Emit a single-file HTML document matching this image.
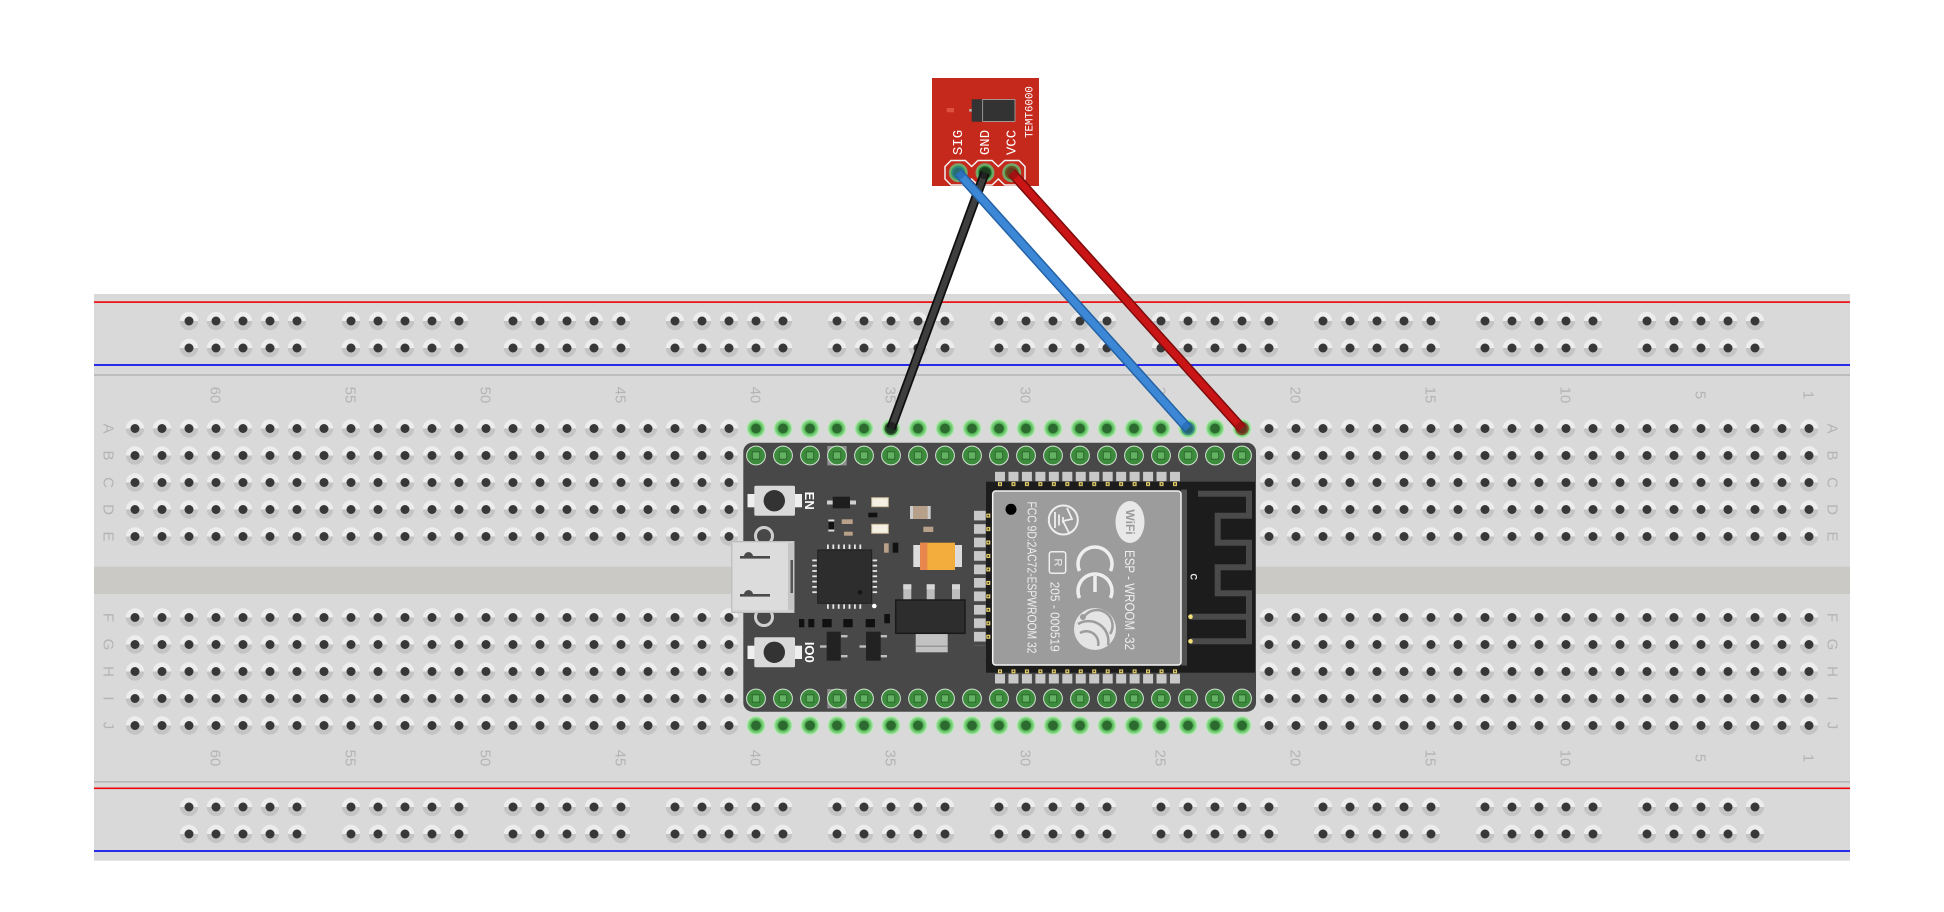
<!DOCTYPE html>
<html><head><meta charset="utf-8"><style>
html,body{margin:0;padding:0;background:#fff;}
svg{display:block;}
</style></head><body>
<svg width="1944" height="912" viewBox="0 0 1944 912" xmlns="http://www.w3.org/2000/svg" font-family="'Liberation Sans', sans-serif">
<defs>
  <pattern id="hp" patternUnits="userSpaceOnUse" x="121.5" y="415" width="27" height="27">
    <path d="M4.3,13.5 A9.2,9.2 0 0 1 22.7,13.5Z" fill="#ededed"/>
    <path d="M4.3,13.5 A9.2,9.2 0 0 0 22.7,13.5Z" fill="#c4c4c4"/>
    <circle cx="13.5" cy="13.5" r="4.5" fill="#383838"/>
  </pattern>
  <pattern id="rp" patternUnits="userSpaceOnUse" x="121.5" y="307.5" width="27" height="27">
    <path d="M4.3,13.5 A9.2,9.2 0 0 1 22.7,13.5Z" fill="#ededed"/>
    <path d="M4.3,13.5 A9.2,9.2 0 0 0 22.7,13.5Z" fill="#c4c4c4"/>
    <circle cx="13.5" cy="13.5" r="4.5" fill="#383838"/>
  </pattern>
  <radialGradient id="gg" cx="50%" cy="50%" r="50%">
    <stop offset="0" stop-color="#2c6a30"/>
    <stop offset="0.47" stop-color="#2c6a30"/>
    <stop offset="0.53" stop-color="#4cb24e"/>
    <stop offset="0.78" stop-color="#84d484"/>
    <stop offset="1" stop-color="#c6efc6"/>
  </radialGradient>
  <pattern id="gp" patternUnits="userSpaceOnUse" x="121.5" y="415" width="27" height="27">
    <circle cx="13.5" cy="13.5" r="9.6" fill="url(#gg)"/>
  </pattern>
  <pattern id="pp" patternUnits="userSpaceOnUse" x="121.5" y="415" width="27" height="27">
    <circle cx="13.5" cy="13.5" r="9.4" fill="#3d8c3d" stroke="#d2e4d2" stroke-width="1"/>
    <rect x="9.8" y="9.8" width="7.4" height="7.4" fill="#63b163" stroke="#2a682a" stroke-width="1"/>
  </pattern>
  <pattern id="tpad" patternUnits="userSpaceOnUse" x="995" y="471.7" width="13.4615" height="30">
    <rect x="0" y="0" width="10" height="9.5" fill="#c8c8c8"/>
    <rect x="3" y="10.3" width="4" height="4" fill="#ecd66c"/>
    <rect x="4.2" y="11.5" width="1.6" height="1.6" fill="#222"/>
  </pattern>
  <pattern id="bpad" patternUnits="userSpaceOnUse" x="995" y="669.3" width="13.4615" height="30">
    <rect x="3" y="0" width="4" height="4" fill="#ecd66c"/>
    <rect x="4.2" y="1.2" width="1.6" height="1.6" fill="#222"/>
    <rect x="0" y="4.7" width="10" height="9.5" fill="#c8c8c8"/>
  </pattern>
  <pattern id="lpad" patternUnits="userSpaceOnUse" x="974" y="510.7" width="30" height="13.46">
    <rect x="0" y="0" width="11.7" height="9.7" fill="#c8c8c8"/>
    <rect x="12.3" y="2.9" width="4" height="4" fill="#ecd66c"/>
    <rect x="13.5" y="4.1" width="1.6" height="1.6" fill="#222"/>
  </pattern>
</defs>

<rect width="1944" height="912" fill="#fff"/>

<!-- Breadboard -->
<rect x="94" y="294" width="1756" height="566.7" fill="#d9d9d9"/>
<rect x="94" y="566.7" width="1756" height="27.3" fill="#cbc9c6"/>
<rect x="94" y="301.3" width="1756" height="1.6" fill="#f00000"/>
<rect x="94" y="364.2" width="1756" height="1.6" fill="#0000f0"/>
<rect x="94" y="374.2" width="1756" height="1.6" fill="#b6b6b6"/>
<rect x="94" y="781" width="1756" height="1.6" fill="#b6b6b6"/>
<rect x="94" y="787.5" width="1756" height="1.6" fill="#f00000"/>
<rect x="94" y="850.2" width="1756" height="1.6" fill="#0000f0"/>

<!-- main holes -->
<rect x="121.5" y="415" width="1701" height="135" fill="url(#hp)"/>
<rect x="121.5" y="604" width="1701" height="135" fill="url(#hp)"/>

<!-- rail holes -->
<g fill="url(#rp)">
<rect x="175.5" y="307.5" width="135" height="54"/><rect x="337.5" y="307.5" width="135" height="54"/>
<rect x="499.5" y="307.5" width="135" height="54"/><rect x="661.5" y="307.5" width="135" height="54"/>
<rect x="823.5" y="307.5" width="135" height="54"/><rect x="985.5" y="307.5" width="135" height="54"/>
<rect x="1147.5" y="307.5" width="135" height="54"/><rect x="1309.5" y="307.5" width="135" height="54"/>
<rect x="1471.5" y="307.5" width="135" height="54"/><rect x="1633.5" y="307.5" width="135" height="54"/>
<rect x="175.5" y="793.5" width="135" height="54"/><rect x="337.5" y="793.5" width="135" height="54"/>
<rect x="499.5" y="793.5" width="135" height="54"/><rect x="661.5" y="793.5" width="135" height="54"/>
<rect x="823.5" y="793.5" width="135" height="54"/><rect x="985.5" y="793.5" width="135" height="54"/>
<rect x="1147.5" y="793.5" width="135" height="54"/><rect x="1309.5" y="793.5" width="135" height="54"/>
<rect x="1471.5" y="793.5" width="135" height="54"/><rect x="1633.5" y="793.5" width="135" height="54"/>
</g>

<!-- green holes row A and J -->
<rect x="742.5" y="415" width="513" height="27" fill="#d9d9d9"/>
<rect x="742.5" y="712" width="513" height="27" fill="#d9d9d9"/>
<rect x="742.5" y="415" width="513" height="27" fill="url(#gp)"/>
<rect x="742.5" y="712" width="513" height="27" fill="url(#gp)"/>

<!-- labels numbers -->
<g fill="#b4b4b4" font-size="15" text-anchor="middle" dominant-baseline="central">
<text transform="translate(215,395) rotate(90)">60</text>
<text transform="translate(350,395) rotate(90)">55</text>
<text transform="translate(485,395) rotate(90)">50</text>
<text transform="translate(620,395) rotate(90)">45</text>
<text transform="translate(755,395) rotate(90)">40</text>
<text transform="translate(890,395) rotate(90)">35</text>
<text transform="translate(1025,395) rotate(90)">30</text>
<text transform="translate(1160,395) rotate(90)">25</text>
<text transform="translate(1295,395) rotate(90)">20</text>
<text transform="translate(1430,395) rotate(90)">15</text>
<text transform="translate(1565,395) rotate(90)">10</text>
<text transform="translate(1700,395) rotate(90)">5</text>
<text transform="translate(1808,395) rotate(90)">1</text>
<text transform="translate(215,758) rotate(90)">60</text>
<text transform="translate(350,758) rotate(90)">55</text>
<text transform="translate(485,758) rotate(90)">50</text>
<text transform="translate(620,758) rotate(90)">45</text>
<text transform="translate(755,758) rotate(90)">40</text>
<text transform="translate(890,758) rotate(90)">35</text>
<text transform="translate(1025,758) rotate(90)">30</text>
<text transform="translate(1160,758) rotate(90)">25</text>
<text transform="translate(1295,758) rotate(90)">20</text>
<text transform="translate(1430,758) rotate(90)">15</text>
<text transform="translate(1565,758) rotate(90)">10</text>
<text transform="translate(1700,758) rotate(90)">5</text>
<text transform="translate(1808,758) rotate(90)">1</text>
<!-- letters -->
<text transform="translate(108,428.5) rotate(90)">A</text>
<text transform="translate(108,455.5) rotate(90)">B</text>
<text transform="translate(108,482.5) rotate(90)">C</text>
<text transform="translate(108,509.5) rotate(90)">D</text>
<text transform="translate(108,536.5) rotate(90)">E</text>
<text transform="translate(108,617.5) rotate(90)">F</text>
<text transform="translate(108,644.5) rotate(90)">G</text>
<text transform="translate(108,671.5) rotate(90)">H</text>
<text transform="translate(108,698.5) rotate(90)">I</text>
<text transform="translate(108,725.5) rotate(90)">J</text>
<text transform="translate(1832,428.5) rotate(90)">A</text>
<text transform="translate(1832,455.5) rotate(90)">B</text>
<text transform="translate(1832,482.5) rotate(90)">C</text>
<text transform="translate(1832,509.5) rotate(90)">D</text>
<text transform="translate(1832,536.5) rotate(90)">E</text>
<text transform="translate(1832,617.5) rotate(90)">F</text>
<text transform="translate(1832,644.5) rotate(90)">G</text>
<text transform="translate(1832,671.5) rotate(90)">H</text>
<text transform="translate(1832,698.5) rotate(90)">I</text>
<text transform="translate(1832,725.5) rotate(90)">J</text>
</g>

<!-- ESP32 board -->
<rect x="743.3" y="442.7" width="512.7" height="269" rx="9" fill="#484848"/>
<!-- pads -->
<rect x="827.3" y="446" width="19.4" height="19.4" fill="#8d8d8d"/>
<rect x="827.3" y="689" width="19.4" height="19.4" fill="#8d8d8d"/>
<rect x="742.5" y="442" width="513" height="27" fill="url(#pp)"/>
<rect x="742.5" y="685" width="513" height="27" fill="url(#pp)"/>

<!-- module area -->
<rect x="986" y="481.7" width="269" height="191" fill="#1c1c1c"/>
<rect x="995" y="471.7" width="185" height="15" fill="url(#tpad)"/>
<rect x="995" y="669.3" width="185" height="15" fill="url(#bpad)"/>
<rect x="974" y="510.7" width="17" height="134.6" fill="url(#lpad)"/>
<rect x="1181" y="489.5" width="6" height="176" fill="#505050"/>
<rect x="992.7" y="491" width="188.3" height="174" rx="3" fill="#9c9c9c" stroke="#f2f2f2" stroke-width="1.5"/>
<!-- antenna -->
<path d="M1198,493.7 H1249 V515.7 H1217.7 V542.7 H1249 V567.3 H1217.7 V593.3 H1249 V641.3 H1190 M1190,616.7 H1249" stroke="#4a4a4a" stroke-width="6" fill="none"/>
<circle cx="1190.5" cy="616.7" r="2.3" fill="#f3e27a"/>
<circle cx="1190.5" cy="641.3" r="2.3" fill="#f3e27a"/>
<text transform="translate(1193.3,576.7) rotate(90)" font-size="9" font-weight="bold" fill="#eee" text-anchor="middle" dominant-baseline="central">C</text>

<!-- can markings -->
<circle cx="1011" cy="509.3" r="5.5" fill="#000"/>
<g fill="#eeeeee" text-anchor="middle" dominant-baseline="central">
<text transform="translate(1031.7,577.5) rotate(90)" font-size="12.5" textLength="152" lengthAdjust="spacingAndGlyphs">FCC 9D:2AC72-ESPWROOM 32</text>
<text transform="translate(1055,616.7) rotate(90)" font-size="13" textLength="70" lengthAdjust="spacingAndGlyphs">205 - 000519</text>
<text transform="translate(1057.5,562.5) rotate(90)" font-size="11">R</text>
<text transform="translate(1130,600) rotate(90)" font-size="14" textLength="100" lengthAdjust="spacingAndGlyphs">ESP - WROOM -32</text>
</g>
<rect x="1049.3" y="551.7" width="16.4" height="21.6" rx="2.5" fill="none" stroke="#eee" stroke-width="1.5"/>
<circle cx="1063.3" cy="520" r="14.5" fill="none" stroke="#eee" stroke-width="2"/>
<path d="M1055,512 V528 M1059,514.5 V525.5 M1063,517 V523 M1067,508 L1072,519 L1063,521 L1069,533" fill="none" stroke="#eee" stroke-width="1.8"/>
<path d="M1079.5,571 A17,17 0 1 1 1110.5,571" fill="none" stroke="#eee" stroke-width="3.5"/>
<path d="M1079.5,598 A17,17 0 1 1 1110.5,598 M1095,576 V592" fill="none" stroke="#eee" stroke-width="3.5"/>
<ellipse cx="1130" cy="522" rx="14.5" ry="21" fill="#e8e8e8"/>
<text transform="translate(1130,522) rotate(90)" font-size="12" font-weight="bold" fill="#9a9a9a" text-anchor="middle" dominant-baseline="central">WiFi</text>
<circle cx="1095" cy="629" r="21" fill="#e4e4e4"/>
<path d="M1078,624 A20,20 0 0 1 1108,645 M1084,617 A15,15 0 0 1 1110,634 M1080,633 A12,12 0 0 1 1098,646" fill="none" stroke="#9c9c9c" stroke-width="2.5"/>
<circle cx="1083" cy="617" r="3" fill="#9c9c9c"/>

<!-- buttons -->
<rect x="747.5" y="494" width="7" height="13.3" fill="#efefef"/>
<rect x="795" y="494" width="7" height="13.3" fill="#efefef"/>
<rect x="754.3" y="485.7" width="40.7" height="30" rx="1.5" fill="#d9d9d9"/>
<circle cx="774.3" cy="500.7" r="10.7" fill="#333"/>
<rect x="747.5" y="645.7" width="7" height="13.3" fill="#efefef"/>
<rect x="795" y="645.7" width="7" height="13.3" fill="#efefef"/>
<rect x="754.3" y="637.3" width="40.7" height="30" rx="1.5" fill="#d9d9d9"/>
<circle cx="774.3" cy="652.3" r="10.7" fill="#333"/>
<g fill="#fff" font-weight="bold" font-size="13" text-anchor="middle" dominant-baseline="central">
<text transform="translate(809.3,500.7) rotate(90)">EN</text>
<text transform="translate(809.3,652.3) rotate(90)">IO0</text>
</g>

<!-- USB -->
<circle cx="764" cy="536" r="8.5" fill="none" stroke="#cfcfcf" stroke-width="3"/>
<circle cx="764" cy="617" r="8.5" fill="none" stroke="#cfcfcf" stroke-width="3"/>
<rect x="731.7" y="541.5" width="62.3" height="71" fill="#d2d2d2" stroke="#bcbcbc" stroke-width="1"/>
<rect x="733" y="543" width="55" height="67" fill="#dcdcdc"/>
<rect x="788" y="543" width="5" height="67" fill="#c4c4c4"/>
<rect x="790.5" y="560" width="2.5" height="33" fill="#555"/>
<rect x="740" y="556" width="30" height="2.6" fill="#4a4a4a"/>
<path d="M744,556.5 A4.5,4.5 0 0 1 753,556.5Z" fill="#4a4a4a"/>
<rect x="740" y="594" width="30" height="2.6" fill="#4a4a4a"/>
<path d="M744,594.5 A4.5,4.5 0 0 1 753,594.5Z" fill="#4a4a4a"/>

<!-- chip -->
<g fill="#e6e6e6">
<rect x="827" y="544.5" width="1.8" height="4.5"/><rect x="832.4" y="544.5" width="1.8" height="4.5"/><rect x="837.8" y="544.5" width="1.8" height="4.5"/><rect x="843.2" y="544.5" width="1.8" height="4.5"/><rect x="848.6" y="544.5" width="1.8" height="4.5"/><rect x="854" y="544.5" width="1.8" height="4.5"/><rect x="859.4" y="544.5" width="1.8" height="4.5"/>
<rect x="827" y="604.3" width="1.8" height="4.5"/><rect x="832.4" y="604.3" width="1.8" height="4.5"/><rect x="837.8" y="604.3" width="1.8" height="4.5"/><rect x="843.2" y="604.3" width="1.8" height="4.5"/><rect x="848.6" y="604.3" width="1.8" height="4.5"/><rect x="854" y="604.3" width="1.8" height="4.5"/><rect x="859.4" y="604.3" width="1.8" height="4.5"/>
<rect x="812.3" y="559.5" width="4.5" height="1.8"/><rect x="812.3" y="564.8" width="4.5" height="1.8"/><rect x="812.3" y="570.1" width="4.5" height="1.8"/><rect x="812.3" y="575.4" width="4.5" height="1.8"/><rect x="812.3" y="580.7" width="4.5" height="1.8"/><rect x="812.3" y="586" width="4.5" height="1.8"/><rect x="812.3" y="591.3" width="4.5" height="1.8"/>
<rect x="872.6" y="559.5" width="4.5" height="1.8"/><rect x="872.6" y="564.8" width="4.5" height="1.8"/><rect x="872.6" y="570.1" width="4.5" height="1.8"/><rect x="872.6" y="575.4" width="4.5" height="1.8"/><rect x="872.6" y="580.7" width="4.5" height="1.8"/><rect x="872.6" y="586" width="4.5" height="1.8"/><rect x="872.6" y="591.3" width="4.5" height="1.8"/>
</g>
<rect x="817.7" y="550" width="54" height="53.3" fill="#2d2d2d" stroke="#1e1e1e" stroke-width="1"/>
<circle cx="860" cy="592.3" r="2.3" fill="#161616"/>
<circle cx="874.3" cy="606" r="2.3" fill="#fff"/>

<!-- small components -->
<rect x="827" y="500.5" width="29" height="4" fill="#cfcfcf"/>
<rect x="832.7" y="496.7" width="17.3" height="11.6" fill="#1e1e1e"/>
<rect x="871.7" y="497.7" width="16.6" height="9" fill="#f4f1e4" stroke="#c8b898" stroke-width="1"/>
<rect x="871.7" y="524.3" width="16.6" height="9" fill="#f4f1e4" stroke="#c8b898" stroke-width="1"/>
<rect x="868.3" y="512.7" width="9" height="4.6" fill="#111"/>
<rect x="910" y="506" width="20.7" height="13" fill="#cccccc"/>
<rect x="913" y="506" width="14.7" height="13" fill="#b7a08a"/>
<rect x="923.3" y="526.7" width="10" height="5.3" fill="#b7a08a"/>
<rect x="828.3" y="519.5" width="6" height="12" fill="#ddd"/>
<rect x="828.3" y="521.5" width="6" height="8" fill="#111"/>
<rect x="841.7" y="519.3" width="11" height="4.7" fill="#b9a089"/>
<rect x="844" y="531.7" width="8.7" height="4" fill="#b9a089"/>
<rect x="884" y="543.3" width="4.7" height="9.4" fill="#b9a089"/>
<rect x="892.7" y="542.7" width="5.6" height="10" fill="#111"/>
<rect x="913.3" y="545" width="48.7" height="22" fill="#dcdcdc"/>
<rect x="920" y="542.7" width="35" height="27.3" fill="#f2ad3c"/>
<rect x="920" y="542.7" width="7.3" height="27.3" fill="#e8874d"/>
<g fill="#111">
<rect x="799" y="619" width="5.3" height="8.3"/><rect x="808.3" y="619" width="6" height="8.3"/>
<rect x="822.3" y="619" width="9.4" height="8.3"/><rect x="843.3" y="619" width="9.4" height="8.3"/>
<rect x="865.7" y="619" width="9.3" height="8.3"/><rect x="884.3" y="614" width="5.7" height="9.3"/>
</g>
<!-- regulator -->
<g fill="#bdbdbd">
<rect x="903.3" y="584.3" width="8" height="16"/><rect x="926.7" y="584.3" width="8" height="16"/><rect x="952" y="584.3" width="8" height="16"/>
</g>
<g fill="#d6d6d6">
<rect x="903.3" y="584.3" width="8" height="5"/><rect x="926.7" y="584.3" width="8" height="5"/><rect x="952" y="584.3" width="8" height="5"/>
</g>
<rect x="915.7" y="633.3" width="32" height="19" fill="#c2c2c2"/>
<rect x="915.7" y="645.5" width="32" height="1.5" fill="#9a9a9a"/>
<rect x="895.7" y="600" width="69.3" height="33.3" fill="#2d2d2d" stroke="#1a1a1a" stroke-width="1.5"/>
<!-- transistors -->
<g fill="#bdbdbd">
<rect x="841" y="635" width="6.5" height="2.4"/><rect x="841" y="655" width="6.5" height="2.4"/><rect x="820" y="645.3" width="6.5" height="2.4"/>
<rect x="880.5" y="635" width="6.5" height="2.4"/><rect x="880.5" y="655" width="6.5" height="2.4"/><rect x="859.5" y="645.3" width="6.5" height="2.4"/>
</g>
<rect x="826.7" y="631.7" width="14" height="29" fill="#222"/>
<rect x="866" y="631.7" width="14.7" height="29" fill="#222"/>

<!-- Sensor board -->
<rect x="932" y="78" width="107" height="108" fill="#c5291c"/>
<rect x="946.7" y="108" width="7.3" height="4.3" fill="#de4f3e"/>
<rect x="969.3" y="109" width="3" height="2.6" fill="#bbb"/>
<rect x="971.7" y="99.3" width="43.6" height="22.4" fill="#333"/>
<rect x="982.7" y="99.6" width="32.3" height="21.8" fill="none" stroke="#bdbdbd" stroke-width="0.7"/>
<g fill="#fff" font-family="'Liberation Mono', monospace" text-anchor="middle" dominant-baseline="central">
<text transform="translate(959,142.5) rotate(-90)" font-size="14">SIG</text>
<text transform="translate(986,142.5) rotate(-90)" font-size="14">GND</text>
<text transform="translate(1012.7,142.5) rotate(-90)" font-size="14">VCC</text>
<text transform="translate(1030.7,112) rotate(-90)" font-size="10.8">TEMT6000</text>
</g>
<path d="M945,166.5 L951,160.5 L965.3,160.5 L971.65,166.5 L978,160.5 L992,160.5 L998.35,166.5 L1004.7,160.5 L1019,160.5 L1025,166.5 L1025,179 L1019,185 L1004.7,185 L998.35,179 L992,185 L978,185 L971.65,179 L965.3,185 L951,185 L945,179 Z" fill="none" stroke="#f2f2f2" stroke-width="1.5"/>
<g>
<circle cx="958.3" cy="172.7" r="9.5" fill="#7fa06e"/><circle cx="958.3" cy="172.7" r="7.5" fill="#44b54c"/><circle cx="958.3" cy="172.7" r="5" fill="#2f8236"/>
<circle cx="985" cy="172.7" r="9.5" fill="#7fa06e"/><circle cx="985" cy="172.7" r="7.5" fill="#44b54c"/><circle cx="985" cy="172.7" r="5" fill="#2f8236"/>
<circle cx="1011.7" cy="172.7" r="9.5" fill="#7fa06e"/><circle cx="1011.7" cy="172.7" r="7.5" fill="#44b54c"/><circle cx="1011.7" cy="172.7" r="5" fill="#2f8236"/>
</g>

<!-- Wires -->
<line x1="985" y1="172.7" x2="891" y2="428.5" stroke="#0f0f0f" stroke-width="9.5"/>
<line x1="985" y1="172.7" x2="891" y2="428.5" stroke="#3e3e3e" stroke-width="6"/>
<circle cx="985" cy="172.7" r="6.5" fill="#111" opacity="0.6"/>
<circle cx="891" cy="428.5" r="6.5" fill="#111" opacity="0.6"/>

<line x1="958.3" y1="172.7" x2="1188" y2="428.5" stroke="#2462a6" stroke-width="10"/>
<line x1="958.3" y1="172.7" x2="1188" y2="428.5" stroke="#3c88d6" stroke-width="7"/>
<circle cx="958.3" cy="172.7" r="6.8" fill="#1f5fa8" opacity="0.55"/>
<circle cx="1188" cy="428.5" r="6.8" fill="#1f5fa8" opacity="0.55"/>

<line x1="1011.7" y1="172.7" x2="1242" y2="428.5" stroke="#7d0b0b" stroke-width="10"/>
<line x1="1011.7" y1="172.7" x2="1242" y2="428.5" stroke="#c91515" stroke-width="7"/>
<circle cx="1011.7" cy="172.7" r="6.8" fill="#8a1010" opacity="0.6"/>
<circle cx="1242" cy="428.5" r="6.8" fill="#8a1010" opacity="0.6"/>
</svg>
</body></html>
